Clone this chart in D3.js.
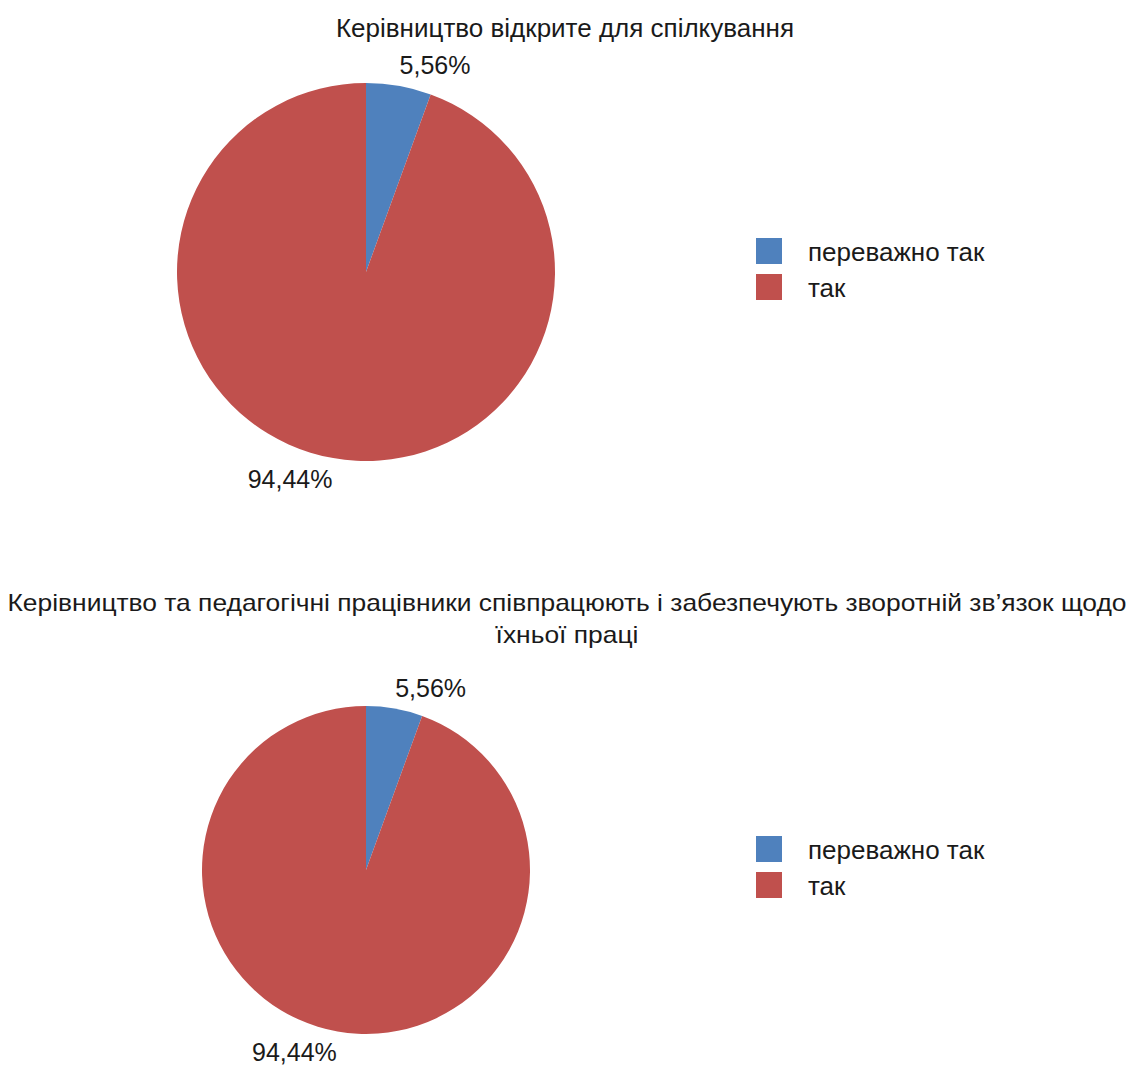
<!DOCTYPE html>
<html>
<head>
<meta charset="utf-8">
<script src="https://cdn.jsdelivr.net/npm/d3@7"></script>
<style>
  body { margin: 0; background: #fff; }
  svg text { font-family: "Liberation Sans", Arial, sans-serif; fill: #1a1a1a; }
</style>
</head>
<body>
<div id="chart"></div>
<script>
// ===== data =====
var categories = ["переважно так", "так"];
var chart1Values = [5.56, 94.44];
var chart2Values = [5.56, 94.44];
var chart1Title = ["Керівництво відкрите для спілкування"];
var chart2Title = ["Керівництво та педагогічні працівники співпрацюють і забезпечують зворотній зв’язок щодо", "їхньої праці"];
var colors = ["#4F81BD", "#C0504D"];

var W = 1133, H = 1066;
var svg = d3.select("#chart")
    .append("svg")
    .attr("width", W)
    .attr("height", H)

var color = d3.scaleOrdinal().domain(categories).range(colors)

function fmt(v){ return v.toFixed(2).replace(".", ",") + "%" }

function pieChart(values, title, opt){
    var g = svg.append("g")

    // title lines
    var t = g.append("g")
    title.forEach(function(line, i){
        t.append("text")
            .text(line)
            .attr("x", opt.titleX)
            .attr("y", opt.titleY + i * 32)
            .attr("text-anchor", "middle")
            .attr("font-size", opt.titleSize + "px")
    })
    // squeeze the long title so it fits the page, like the original
    if (opt.titleWidth){
        var first = t.select("text").node()
        var ratio = opt.titleWidth / first.getComputedTextLength()
        t.selectAll("text").each(function(){
            var len = this.getComputedTextLength()
            d3.select(this).attr("textLength", len * ratio).attr("lengthAdjust", "spacingAndGlyphs")
        })
    }

    var data = categories.map(function(c, i){ return {cat: c, value: values[i]} })
    var pie = d3.pie().sort(null).value(function(d){ return d.value })
    var arcs = pie(data)
    var arc = d3.arc().innerRadius(0).outerRadius(opt.r)

    var pg = g.append("g").attr("transform", "translate(" + opt.cx + "," + opt.cy + ")")
    pg.selectAll("path")
        .data(arcs)
        .enter().append("path")
        .attr("d", arc)
        .attr("fill", function(d){ return color(d.data.cat) })

    // labels at outside end: box corner touching the mid-angle point
    var labelArc = d3.arc().innerRadius(opt.r + 4).outerRadius(opt.r + 4)
    pg.selectAll("text.lbl")
        .data(arcs)
        .enter().append("text")
        .attr("class", "lbl")
        .text(function(d){ return fmt(d.data.value) })
        .attr("font-size", "25px")
        .attr("text-anchor", function(d){
            var m = (d.startAngle + d.endAngle) / 2
            return Math.sin(m) >= 0 ? "start" : "end"
        })
        .attr("x", function(d){ return labelArc.centroid(d)[0] })
        .attr("y", function(d){
            var m = (d.startAngle + d.endAngle) / 2
            var p = labelArc.centroid(d)
            return Math.cos(m) > 0 ? p[1] - 8 : p[1] + 26
        })

    // legend
    var lg = g.append("g").attr("transform", "translate(756," + opt.cy + ")")
    var rowH = 36
    var item = lg.selectAll("g")
        .data(categories)
        .enter().append("g")
        .attr("transform", function(d, i){ return "translate(0," + ((i - (categories.length - 1) / 2) * rowH - opt.legendShift) + ")" })
    item.append("rect")
        .attr("x", 0)
        .attr("y", -13)
        .attr("width", 26)
        .attr("height", 26)
        .attr("fill", function(d){ return color(d) })
    item.append("text")
        .text(function(d){ return d })
        .attr("x", 52)
        .attr("y", 10)
        .attr("font-size", "26px")
}

pieChart(chart1Values, chart1Title, {cx: 366, cy: 272, r: 189, titleX: 565, titleY: 37, titleSize: 26, legendShift: 3})
pieChart(chart2Values, chart2Title, {cx: 366, cy: 870, r: 164, titleX: 567, titleY: 611, titleSize: 24, titleWidth: 1119, legendShift: 3})
</script>
</body>
</html>
